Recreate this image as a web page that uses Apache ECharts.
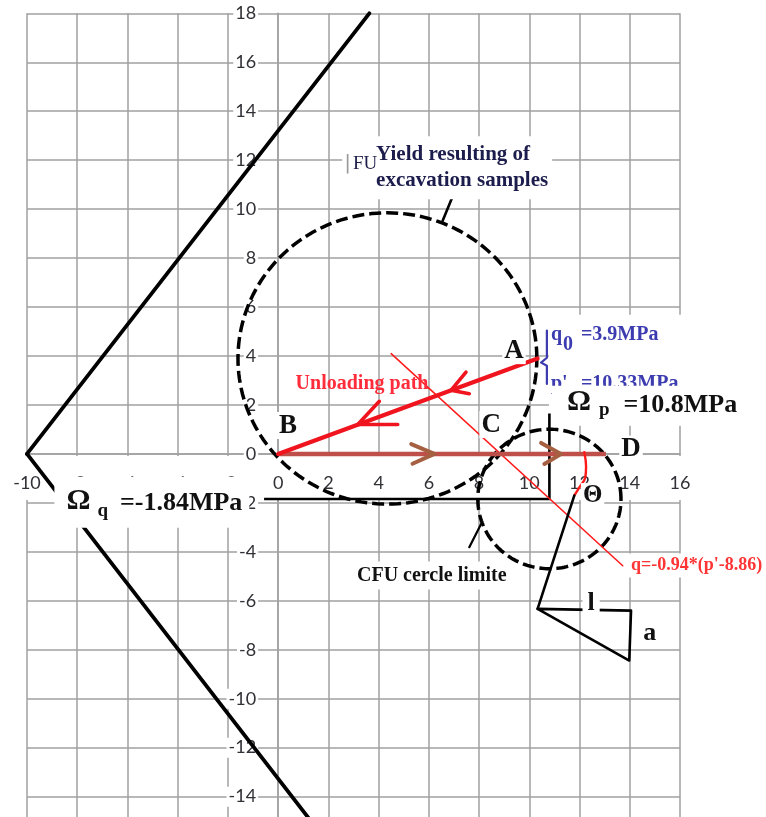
<!DOCTYPE html>
<html>
<head>
<meta charset="utf-8">
<script src="https://cdn.jsdelivr.net/npm/echarts@6/dist/echarts.min.js"></script>
<style>
  html, body { margin: 0; padding: 0; background: #ffffff; }
  #chart { width: 766px; height: 817px; }
</style>
</head>
<body>
<div id="chart"></div>
<script>
// ---- Axis ticks: p' (horizontal) and q (vertical), MPa ----
const pTicks = [-10, -8, -6, -4, -2, 0, 2, 4, 6, 8, 10, 12, 14, 16];
const qTicks = [-16, -14, -12, -10, -8, -6, -4, -2, 0, 2, 4, 6, 8, 10, 12, 14, 16, 18];

// ---- Failure envelope branches (p', q) ----
const envelopeUpper = [[-10, 0], [3.63, 18]];
const envelopeLower = [[-10, 0], [2.06, -16]];

// ---- Yield circle of the excavation samples: [centre p', centre q, radius] ----
const yieldCircle = [4.35, 3.9, 5.95];

// ---- CFU limit circle, centred on (Ωp, Ωq) ----
const omegaP = 10.8;
const omegaQ = -1.84;
const cfuRadius = 2.85;

// ---- Stress states ----
const q0 = 3.9;
const p0 = 10.33;
const pointA = [p0, q0];
const pointB = [0, 0];
const pointD = [13.05, 0];

// Arrowheads along the unloading path A -> B  (branch, tip, branch)
const unloadHead1 = [[4.03, 2.15], [3.17, 1.2], [4.76, 1.2]];
const unloadHead2 = [[7.48, 3.34], [6.88, 2.6], [7.61, 2.46]];
// Arrowheads along B -> D
const reloadHead1 = [[5.3, 0.4], [6.22, 0], [5.35, -0.4]];
const reloadHead2 = [[10.47, 0.45], [11.26, 0], [10.6, -0.41]];

// Guide from the q axis to the CFU centre and up towards Ωp
const guideStartP = -0.56;
const guideTopQ = 1.65;

// Limit line q = slope * (p' - pIntercept)
const limitSlope = -0.94;
const limitIntercept = 8.86;
const limitRange = [4.5, 13.72];

// Slope triangle (1 : a) and its inclined side
const slopeTriangle = [[10.33, -6.33], [14.05, -6.4], [13.98, -8.44], [10.33, -6.33]];
const slopeLine = [[10.33, -6.33], [11.79, -1.7]];
// Angle mark Θ
const thetaArc = [[12.19, 0.07], [12.26, -0.5], [12.23, -0.95], [12.0, -1.36], [11.79, -1.7]];

// Leader lines of the callouts
const yieldLeader = [[6.55, 9.53], [7.15, 11.03]];
const cfuLeader = [[7.61, -3.81], [8.08, -2.86]];
// Brace next to the q0 / p' values
const stateBrace = [[10.7, 5.04], [10.7, 3.93], [10.47, 3.73], [10.7, 3.6], [10.7, 2.86]];

// ---- Annotation texts and their anchors (p', q) ----
const noteTexts = [
  'Yield resulting of\nexcavation samples',
  '{b||}{t|FU}',
  'A', 'B', 'C', 'D', 'Θ',
  'Unloading path',
  'CFU cercle limite',
  "q=-0.94*(p'-8.86)",
  'l', 'a',
  "{q|q}{s|0}{v1|=3.9MPa}\n{p|p'}{v2|=10.33MPa}",
  '{o|Ω}{s|p}{v|=10.8MPa}',
  '{o|Ω}{s|q}{v|=-1.84MPa}'
];
const noteAnchors = [
  [3.82, 11.69],
  [2.55, 11.86],
  [9.39, 4.22], [0.39, 1.16], [8.48, 1.2], [14.05, 0.2], [12.52, -1.7],
  [3.34, 2.87],
  [2.9, -4.97],
  [13.97, -4.56],
  [12.46, -6.11], [14.8, -7.34],
  [10.78, 5.69],
  [10.90, 2.79],
  [-8.91, -0.93]
];

// ---------------------------------------------------------------
const SERIF = "'Liberation Serif', 'Times New Roman', serif";
const BLACK = '#111111';
const RED = '#f0141e';
const BROWN_LINE = '#be4f4a';
const BROWN_HEAD = '#a55f41';
const BLUE = '#3c3cb0';

const bold = (size) => 'bold ' + size + 'px ' + SERIF;
const letter = (size) => ({ font: bold(size), fill: BLACK, align: 'center', verticalAlign: 'middle', backgroundColor: '#fff', padding: [0, 2] });

const noteStyles = [
  { font: bold(21), fill: '#1d1d4d', lineHeight: 26, align: 'left', verticalAlign: 'middle',
    backgroundColor: '#fff', padding: [5, 4, 6, 2] },
  { align: 'left', verticalAlign: 'middle', backgroundColor: '#fff', padding: [2, 1, 2, 2],
    rich: {
      b: { fontFamily: 'DejaVu Sans', fontSize: 20, fill: '#9a9a9a', padding: [0, 2, 0, 0] },
      t: { fontFamily: SERIF, fontSize: 19, fill: '#1c1c48' }
    } },
  letter(27), letter(27), letter(27), letter(27), letter(25),
  { font: bold(20), fill: '#ff2d3c', align: 'center', verticalAlign: 'middle' },
  { font: bold(20), fill: BLACK, align: 'left', verticalAlign: 'middle', backgroundColor: '#fff', padding: [4, 6, 4, 6] },
  { font: bold(18), fill: '#ff3434', align: 'left', verticalAlign: 'middle', backgroundColor: '#fff', padding: [3, 2, 3, 2] },
  { font: bold(26), fill: BLACK, align: 'center', verticalAlign: 'middle', backgroundColor: '#fff', padding: [0, 5] },
  { font: bold(26), fill: BLACK, align: 'center', verticalAlign: 'middle', backgroundColor: '#fff', padding: [0, 3] },
  { align: 'left', verticalAlign: 'top', backgroundColor: '#fff', padding: [0, 12, 0, 2],
    rich: {
      q: { fontFamily: SERIF, fontWeight: 'bold', fontSize: 20, fill: BLUE, width: 12, lineHeight: 40 },
      s: { fontFamily: SERIF, fontWeight: 'bold', fontSize: 20, fill: BLUE, width: 18, lineHeight: 16, verticalAlign: 'bottom' },
      v1: { fontFamily: SERIF, fontWeight: 'bold', fontSize: 20, fill: BLUE, lineHeight: 40 },
      p: { fontFamily: SERIF, fontWeight: 'bold', fontSize: 20, fill: BLUE, width: 30, lineHeight: 58 },
      v2: { fontFamily: SERIF, fontWeight: 'bold', fontSize: 20, fill: BLUE, lineHeight: 58 }
    } },
  { align: 'left', verticalAlign: 'top', backgroundColor: '#fff', padding: [0, 8, 6, 15],
    rich: {
      o: { fontFamily: SERIF, fontWeight: 'bold', fontSize: 30, fill: BLACK, lineHeight: 34 },
      s: { fontFamily: SERIF, fontWeight: 'bold', fontSize: 19, fill: BLACK, lineHeight: 15, verticalAlign: 'bottom', padding: [0, 14, 0, 8] },
      v: { fontFamily: SERIF, fontWeight: 'bold', fontSize: 26, fill: BLACK, lineHeight: 26, padding: [6, 0, 0, 0] }
    } },
  { align: 'left', verticalAlign: 'top', backgroundColor: '#fff', padding: [6, 7, 7, 12],
    rich: {
      o: { fontFamily: SERIF, fontWeight: 'bold', fontSize: 30, fill: BLACK, lineHeight: 38 },
      s: { fontFamily: SERIF, fontWeight: 'bold', fontSize: 19, fill: BLACK, lineHeight: 10, verticalAlign: 'bottom', padding: [0, 12, 0, 7] },
      v: { fontFamily: SERIF, fontWeight: 'bold', fontSize: 26, fill: BLACK, lineHeight: 26, padding: [3, 0, 0, 0] }
    } }
];

function lineSeries(name, data, color, width, extra) {
  return Object.assign({
    name: name,
    type: 'line',
    data: data,
    symbol: 'none',
    silent: true,
    clip: false,
    z: 3,
    lineStyle: { color: color, width: width, cap: 'round', join: 'round' }
  }, extra || {});
}

// Dashed circle drawn in data units through the axes' scales
function circleSeries(name, circle) {
  return {
    name: name,
    type: 'custom',
    coordinateSystem: 'cartesian2d',
    silent: true,
    clip: false,
    z: 3,
    data: [circle],
    renderItem: function (params, api) {
      const cx = api.value(0), cy = api.value(1), r = api.value(2);
      const pts = [];
      const steps = 180;
      for (let k = 0; k <= steps; k++) {
        const t = (k / steps) * Math.PI * 2;
        pts.push(api.coord([cx + r * Math.cos(t), cy + r * Math.sin(t)]));
      }
      return {
        type: 'polyline',
        shape: { points: pts },
        style: { stroke: '#000', fill: 'none', lineWidth: 3.5, lineDash: [12, 5] }
      };
    }
  };
}

const limitLine = limitRange.map(p => [p, limitSlope * (p - limitIntercept)]);
const omegaGuide = [[guideStartP, omegaQ], [omegaP, omegaQ], [omegaP, guideTopQ]];

const chart = echarts.init(document.getElementById('chart'), null, { renderer: 'canvas' });

const gridColor = '#a0a0a0';
const tickFont = { fontFamily: 'Lato', fontSize: 18, color: '#303036' };

chart.setOption({
  animation: false,
  backgroundColor: '#ffffff',
  grid: {
    left: 27, right: 86, top: 13.3, bottom: -28.6,
    containLabel: false,
    outerBoundsMode: 'none'
  },
  xAxis: {
    type: 'value',
    min: pTicks[0], max: pTicks[pTicks.length - 1], interval: pTicks[1] - pTicks[0],
    position: 'bottom',
    axisLine: { show: true, onZero: false, lineStyle: { color: gridColor, width: 1.5 } },
    axisTick: { show: false },
    splitLine: { show: true, lineStyle: { color: gridColor, width: 1.5 } },
    axisLabel: Object.assign({
      backgroundColor: '#ffffff', padding: [18, 4, 8, 4], margin: 2,
      showMinLabel: true, showMaxLabel: true
    }, tickFont)
  },
  yAxis: {
    type: 'value',
    min: qTicks[0], max: qTicks[qTicks.length - 1], interval: qTicks[1] - qTicks[0],
    position: 'left',
    axisLine: { show: true, onZero: false, lineStyle: { color: gridColor, width: 1.5 } },
    axisTick: { show: false },
    splitLine: { show: true, lineStyle: { color: gridColor, width: 1.5 } },
    axisLabel: Object.assign({
      backgroundColor: '#ffffff', padding: [1, 2, 1, 2], margin: 20,
      showMinLabel: true, showMaxLabel: true
    }, tickFont)
  },
  series: [
    lineSeries('envelope upper', envelopeUpper, '#000', 3.8),
    lineSeries('envelope lower', envelopeLower, '#000', 3.8),
    circleSeries('yield circle', yieldCircle),
    circleSeries('CFU circle', [omegaP, omegaQ, cfuRadius]),
    lineSeries('omega guide', omegaGuide, '#000', 2.6, { lineStyle: { color: '#000', width: 2.6, cap: 'butt', join: 'miter' } }),
    lineSeries('limit line', limitLine, '#ff1a1a', 1.5),
    lineSeries('B-D path', [pointB, pointD], BROWN_LINE, 4.6, { lineStyle: { color: BROWN_LINE, width: 4.6, cap: 'butt' } }),
    lineSeries('B-D head 1', reloadHead1, BROWN_HEAD, 4),
    lineSeries('B-D head 2', reloadHead2, BROWN_HEAD, 4),
    lineSeries('unloading path', [pointA, pointB], RED, 4.2),
    lineSeries('unloading head 1', unloadHead1, RED, 3.6),
    lineSeries('unloading head 2', unloadHead2, RED, 3.6),
    lineSeries('theta arc', thetaArc, '#ff1a1a', 2.4, { smooth: 0.4 }),
    lineSeries('slope line', slopeLine, '#000', 2.6),
    lineSeries('slope triangle', slopeTriangle, '#000', 2.6),
    lineSeries('yield leader', yieldLeader, '#000', 2.6),
    lineSeries('CFU leader', cfuLeader, '#000', 2.2),
    lineSeries('state brace', stateBrace, BLUE, 2.2),
    {
      name: 'notes',
      type: 'custom',
      coordinateSystem: 'cartesian2d',
      silent: true,
      clip: false,
      z: 6,
      data: noteAnchors.map((a, i) => [a[0], a[1], i]),
      renderItem: function (params, api) {
        const i = params.dataIndex;
        const pt = api.coord([api.value(0), api.value(1)]);
        return {
          type: 'text',
          x: pt[0],
          y: pt[1],
          z2: i,
          style: Object.assign({ text: noteTexts[i] }, noteStyles[i])
        };
      }
    }
  ]
});

// Move both axes so they cross at the origin (p' = 0, q = 0)
const xZeroPx = chart.convertToPixel({ xAxisIndex: 0 }, 0);
const xMinPx = chart.convertToPixel({ xAxisIndex: 0 }, pTicks[0]);
const yZeroPx = chart.convertToPixel({ yAxisIndex: 0 }, 0);
const yMinPx = chart.convertToPixel({ yAxisIndex: 0 }, qTicks[0]);
chart.setOption({
  xAxis: { offset: yZeroPx - yMinPx },
  yAxis: { offset: xMinPx - xZeroPx }
});
</script>
</body>
</html>
